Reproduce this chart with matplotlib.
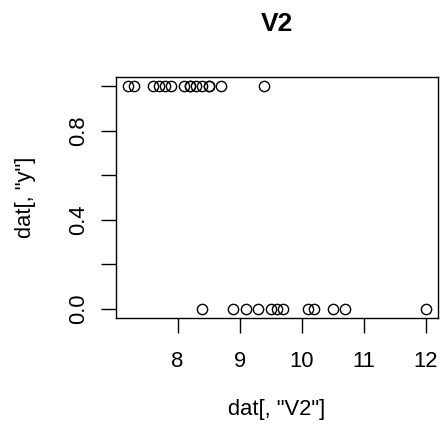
import matplotlib
matplotlib.use("Agg")
import matplotlib.pyplot as plt

plt.rcParams['font.family'] = ['Liberation Sans', 'DejaVu Sans']

# V2 values for y == 1 and y == 0
v2_y1 = [7.2, 7.3, 7.6, 7.7, 7.8, 7.9, 8.1, 8.2, 8.2, 8.3, 8.4, 8.5, 8.5, 8.7, 9.4]
v2_y0 = [8.4, 8.9, 9.1, 9.3, 9.5, 9.6, 9.7, 10.1, 10.2, 10.5, 10.7, 12.0]
x_ticks = [8, 9, 10, 11, 12]
y_ticks = [0.0, 0.2, 0.4, 0.6, 0.8, 1.0]
y_tick_labels = ["0.0", "", "0.4", "", "0.8", ""]

x = v2_y1 + v2_y0
y = [1] * len(v2_y1) + [0] * len(v2_y0)

W, H = 440, 429
FS = 15.8
LW = 1.0
fig = plt.figure(figsize=(W / 100, H / 100), dpi=100)
left, right, top, bottom = 116, 437.7, 77.3, 317.7
ax = fig.add_axes([left / W, 1 - bottom / H, (right - left) / W, (bottom - top) / H])

ax.plot(x, y, linestyle='none', marker='o', markersize=7.4,
        markerfacecolor='none', markeredgecolor='black', markeredgewidth=LW)

xmin, xmax = min(x), max(x)
pad = 0.04 * (xmax - xmin)
ax.set_xlim(xmin - pad, xmax + pad)
ax.set_ylim(-0.04, 1.04)

ax.set_xticks(x_ticks)
ax.set_xticklabels([str(t) for t in x_ticks])
ax.set_yticks(y_ticks)
ax.set_yticklabels(y_tick_labels, rotation=90, va='center')

for s in ax.spines.values():
    s.set_linewidth(LW)
ax.tick_params(direction='out', length=10.5, width=LW, labelsize=FS)
ax.tick_params(axis='x', pad=13.7)
ax.tick_params(axis='y', pad=8.7)

# axis titles and main title
fig.text((left + right) / 2 / W, 1 - 410 / H, 'dat[, "V2"]', fontsize=FS,
         ha='center', va='center')
fig.text(25 / W, 1 - (top + bottom) / 2 / H, 'dat[, "y"]', fontsize=FS,
         rotation=90, ha='center', va='center')
fig.text((left + right) / 2 / W, 1 - 31 / H, 'V2', fontsize=FS * 1.2,
         fontweight='bold', ha='center', va='baseline')

fig.savefig('out.png', dpi=100)
